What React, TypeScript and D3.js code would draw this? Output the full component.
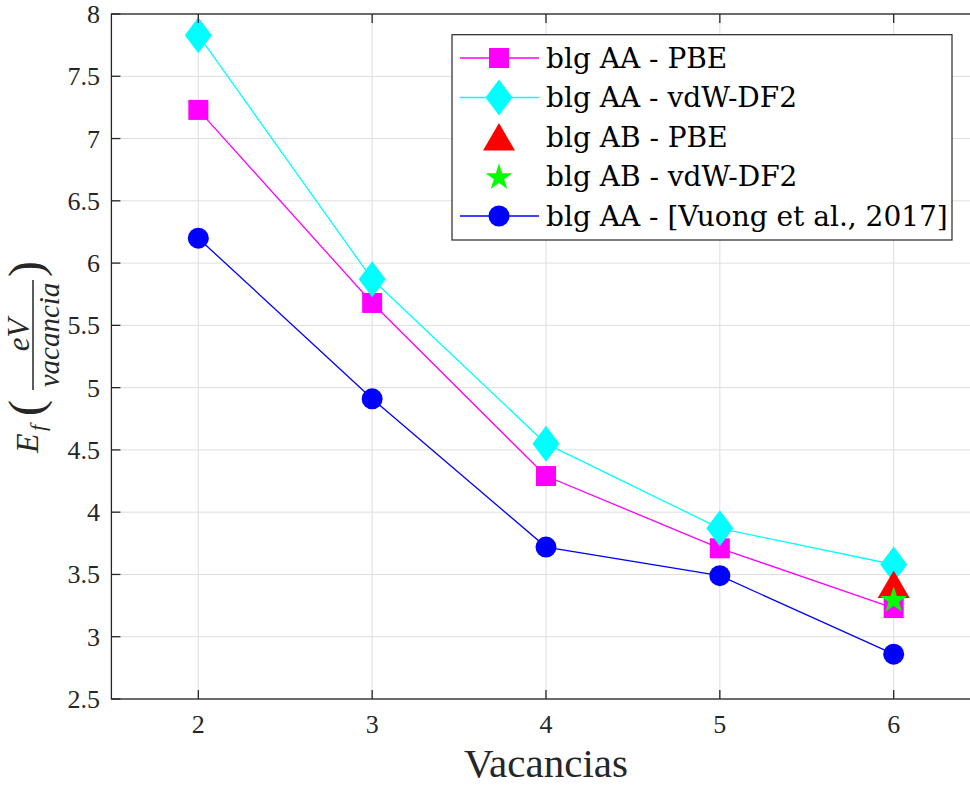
import React from "react";
import * as d3 from "d3";

const vacancias = [2, 3, 4, 5, 6];
const aaPBE = [7.23, 5.68, 4.29, 3.71, 3.23];
const aaVdW = [7.83, 5.87, 4.55, 3.87, 3.58];
const abPBE = [{ x: 6, y: 3.42 }];
const abVdW = [{ x: 6, y: 3.3 }];
const aaVuong = [6.2, 4.91, 3.72, 3.49, 2.86];

const yTicks = [2.5, 3, 3.5, 4, 4.5, 5, 5.5, 6, 6.5, 7, 7.5, 8];

const legendLabels = [
  "blg AA - PBE",
  "blg AA - vdW-DF2",
  "blg AB - PBE",
  "blg AB - vdW-DF2",
  "blg AA - [Vuong et al., 2017]",
];

const W = 970;
const H = 785;
const TICKFONT = "Liberation Serif";
const LEGFONT = "DejaVu Serif";
const LABELFONT = "serif";
const AXIS = "#262626";
const GRID = "#dedede";

function marker(kind: string, cx: number, cy: number, color: string, key?: any) {
  if (kind === "square") {
    return <rect key={key} x={cx - 10} y={cy - 10} width={20} height={20} fill={color} />;
  }
  if (kind === "diamond") {
    const d = `M${cx},${cy - 18}L${cx + 13.5},${cy}L${cx},${cy + 18}L${cx - 13.5},${cy}Z`;
    return <path key={key} d={d} fill={color} />;
  }
  if (kind === "triangle") {
    const d = `M${cx},${cy - 14}L${cx + 16},${cy + 13.5}L${cx - 16},${cy + 13.5}Z`;
    return <path key={key} d={d} fill={color} />;
  }
  if (kind === "star") {
    const p = d3.symbol().type(d3.symbolStar).size(225)();
    return <path key={key} d={p || ""} transform={`translate(${cx},${cy + 1})`} fill={color} />;
  }
  return <circle key={key} cx={cx} cy={cy} r={10.5} fill={color} />;
}

export default function App() {
  const x = d3.scaleLinear().domain([1.5, 6.5]).range([111.4, 980.6]);
  const y = d3.scaleLinear().domain([2.5, 8]).range([699, 14]);
  const [x0, x1] = x.range();
  const [yb, yt] = y.range();

  const line = d3
    .line<number>()
    .x((_, i) => x(vacancias[i]))
    .y((d) => y(d));

  const series = [
    { values: aaPBE, color: "#ff00ff", kind: "square" },
    { values: aaVdW, color: "#00ffff", kind: "diamond" },
  ];

  const legend = [
    { color: "#ff00ff", kind: "square", line: true },
    { color: "#00ffff", kind: "diamond", line: true },
    { color: "#ff0000", kind: "triangle", line: false },
    { color: "#00ff00", kind: "star", line: false },
    { color: "#0000ff", kind: "circle", line: true },
  ];

  return (
    <svg width={W} height={H} style={{ position: "absolute", left: 0, top: 0, background: "#fff" }}>
      <rect width={W} height={H} fill="#fff" />
      {/* grid */}
      {vacancias.map((v) => (
        <line key={"gx" + v} x1={x(v)} x2={x(v)} y1={yb} y2={yt} stroke={GRID} strokeWidth={1} />
      ))}
      {yTicks.map((t) => (
        <line key={"gy" + t} x1={x0} x2={x1} y1={y(t)} y2={y(t)} stroke={GRID} strokeWidth={1} />
      ))}

      {/* series */}
      {series.map((s, si) => (
        <g key={si}>
          <path d={line(s.values) || ""} fill="none" stroke={s.color} strokeWidth={1.3} />
          {s.values.map((d, i) => marker(s.kind, x(vacancias[i]), y(d), s.color, i))}
        </g>
      ))}
      {abPBE.map((d, i) => marker("triangle", x(d.x), y(d.y), "#ff0000", "t" + i))}
      {abVdW.map((d, i) => marker("star", x(d.x), y(d.y), "#00ff00", "s" + i))}
      <g>
        <path d={line(aaVuong) || ""} fill="none" stroke="#0000ff" strokeWidth={1.3} />
        {aaVuong.map((d, i) => marker("circle", x(vacancias[i]), y(d), "#0000ff", i))}
      </g>

      {/* axes box */}
      <rect x={x0} y={yt} width={x1 - x0} height={yb - yt} fill="none" stroke={AXIS} strokeWidth={1.3} />
      {vacancias.map((v) => (
        <g key={"tx" + v}>
          <line x1={x(v)} x2={x(v)} y1={yb} y2={yb - 9} stroke={AXIS} strokeWidth={1.3} />
          <line x1={x(v)} x2={x(v)} y1={yt} y2={yt + 9} stroke={AXIS} strokeWidth={1.3} />
          <text x={x(v)} y={733} textAnchor="middle" fontSize={26} fill={AXIS} fontFamily={TICKFONT}>
            {v}
          </text>
        </g>
      ))}
      {yTicks.map((t) => (
        <g key={"ty" + t}>
          <line x1={x0} x2={x0 + 9} y1={y(t)} y2={y(t)} stroke={AXIS} strokeWidth={1.3} />
          <line x1={x1} x2={x1 - 9} y1={y(t)} y2={y(t)} stroke={AXIS} strokeWidth={1.3} />
          <text x={100} y={y(t) + 9} textAnchor="end" fontSize={26} fill={AXIS} fontFamily={TICKFONT}>
            {t}
          </text>
        </g>
      ))}

      {/* x label */}
      <text x={546} y={777} textAnchor="middle" fontSize={41} fill={AXIS} fontFamily={LABELFONT}>
        Vacancias
      </text>

      {/* y label */}
      <g transform="translate(0,357) rotate(-90)" fill={AXIS} fontFamily={LABELFONT}>
        <text x={-96} y={38} fontSize={32} fontStyle="italic">
          E
        </text>
        <text x={-74} y={45} fontSize={22} fontStyle="italic">
          f
        </text>
        <text x={-59} y={42} fontSize={48}>
          (
        </text>
        <text x={22} y={29} fontSize={31} fontStyle="italic" textAnchor="middle">
          eV
        </text>
        <line x1={-33} x2={77} y1={33} y2={33} stroke={AXIS} strokeWidth={1.5} />
        <text x={22} y={59} fontSize={29} fontStyle="italic" textAnchor="middle">
          vacancia
        </text>
        <text x={80} y={42} fontSize={48}>
          )
        </text>
      </g>

      {/* legend */}
      <rect x={452} y={34.7} width={500} height={205.3} fill="#fff" stroke={AXIS} strokeWidth={1.2} />
      {legend.map((l, i) => {
        const cy = 58 + i * 39.5;
        return (
          <g key={"lg" + i}>
            {l.line && <line x1={460} x2={539} y1={cy} y2={cy} stroke={l.color} strokeWidth={1.3} />}
            {marker(l.kind, 499, cy, l.color)}
            <text x={546} y={cy + 9.5} fontSize={28} fill="#000" fontFamily={LEGFONT}>
              {legendLabels[i]}
            </text>
          </g>
        );
      })}
    </svg>
  );
}
